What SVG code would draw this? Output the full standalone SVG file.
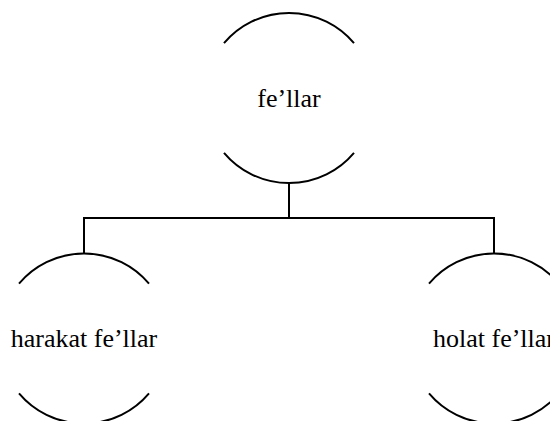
<svg xmlns="http://www.w3.org/2000/svg" width="550" height="421" viewBox="0 0 550 421">
<style>
.arc{fill:none;stroke:#000;stroke-width:2}
.conn{fill:none;stroke:#000;stroke-width:2}
.lbl{font-family:"Liberation Serif","Times New Roman",serif;font-size:26px;fill:#000;text-anchor:middle}
</style>
<rect width="550" height="421" fill="#fff"/>
<g id="connectors">
<path class="conn" d="M289 183 V218 M84 218 H494 M84 217 V254 M494 217 V254"/>
</g>
<g id="node-fellar">
<path class="arc" d="M224 43.2 A85 85 0 0 1 354 43.2"/>
<path class="arc" d="M224 152.8 A85 85 0 0 0 354 152.8"/>
<text class="lbl" x="289" y="107">fe’llar</text>
</g>
<g id="node-harakat">
<path class="arc" d="M19 283.7 A85 85 0 0 1 149 283.7"/>
<path class="arc" d="M19 393.3 A85 85 0 0 0 149 393.3"/>
<text class="lbl" x="84" y="347">harakat fe’llar</text>
</g>
<g id="node-holat">
<path class="arc" d="M429 283.7 A85 85 0 0 1 559 283.7"/>
<path class="arc" d="M429 393.3 A85 85 0 0 0 559 393.3"/>
<text class="lbl" x="494" y="347">holat fe’llar</text>
</g>
</svg>
